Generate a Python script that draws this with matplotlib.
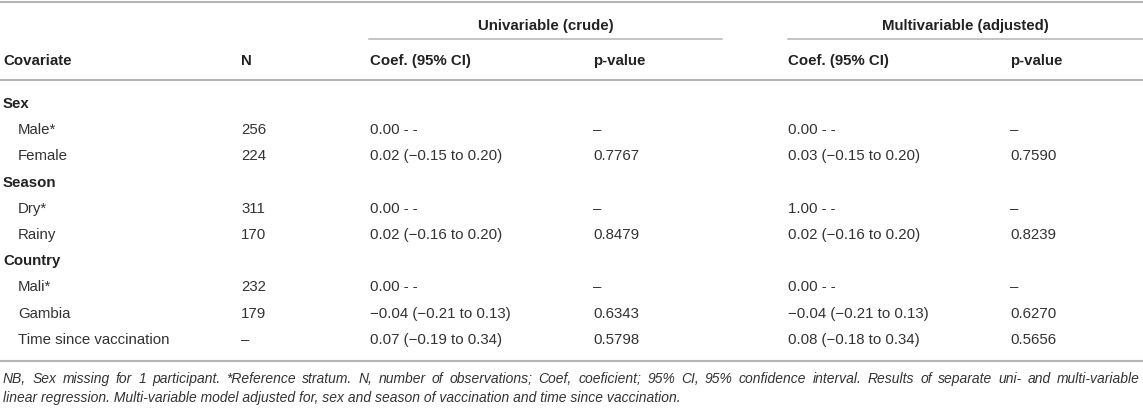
import matplotlib
matplotlib.use("Agg")
from matplotlib import pyplot as plt

plt.rcParams['font.family'] = ['Liberation Sans', 'DejaVu Sans']

# table content
row_labels = ["Sex", "Male*", "Female", "Season", "Dry*", "Rainy",
              "Country", "Mali*", "Gambia", "Time since vaccination"]
is_group = [True, False, False, True, False, False, True, False, False, False]
n_obs = ["", "256", "224", "", "311", "170", "", "232", "179", "–"]
uni_coef = ["", "0.00 - -", "0.02 (−0.15 to 0.20)", "", "0.00 - -",
            "0.02 (−0.16 to 0.20)", "", "0.00 - -", "−0.04 (−0.21 to 0.13)",
            "0.07 (−0.19 to 0.34)"]
uni_p = ["", "–", "0.7767", "", "–", "0.8479", "", "–", "0.6343", "0.5798"]
multi_coef = ["", "0.00 - -", "0.03 (−0.15 to 0.20)", "", "1.00 - -",
              "0.02 (−0.16 to 0.20)", "", "0.00 - -", "−0.04 (−0.21 to 0.13)",
              "0.08 (−0.18 to 0.34)"]
multi_p = ["", "–", "0.7590", "", "–", "0.8239", "", "–", "0.6270", "0.5656"]

col_heads = ["Covariate", "N", "Coef. (95% CI)", "p-value", "Coef. (95% CI)", "p-value"]
group_heads = ["Univariable (crude)", "Multivariable (adjusted)"]

foot_lines = ["NB, Sex missing for 1 participant. *Reference stratum. N, number of observations; "
              "Coef, coeficient; 95% CI, 95% confidence interval. Results of separate uni- and multi-variable",
              "linear regression. Multi-variable model adjusted for, sex and season of vaccination "
              "and time since vaccination."]

W, H = 1143, 410
fig = plt.figure(figsize=(W / 100, H / 100), dpi=100)
ax = fig.add_axes([0, 0, 1, 1])
ax.set_xlim(0, W)
ax.set_ylim(H, 0)
ax.axis("off")

txt = "#333333"
bold_txt = "#222222"
rule = "#b4b4b4"
fs = 10.8
col_x = [3, 241, 370, 593, 788, 1010]

# rules
ax.plot([0, W], [3, 3], color=rule, lw=1.5)
ax.plot([369, 722], [40, 40], color=rule, lw=1.1)
ax.plot([788, W], [40, 40], color=rule, lw=1.1)
ax.plot([0, W], [81, 81], color=rule, lw=1.5)
ax.plot([0, W], [362, 362], color=rule, lw=1.5)

# spanning headers
ax.text(546, 26, group_heads[0], ha="center", va="center", fontsize=fs,
        fontweight="bold", color=bold_txt)
ax.text(965, 26, group_heads[1], ha="center", va="center", fontsize=fs,
        fontweight="bold", color=bold_txt)

for x, h in zip(col_x, col_heads):
    ax.text(x, 61, h, ha="left", va="center", fontsize=fs, fontweight="bold", color=bold_txt)

row_y0, row_dy = 104, 26.2
for i, lab in enumerate(row_labels):
    y = row_y0 + i * row_dy
    if is_group[i]:
        ax.text(col_x[0], y, lab, ha="left", va="center", fontsize=fs,
                fontweight="bold", color=bold_txt)
        continue
    ax.text(18, y, lab, ha="left", va="center", fontsize=fs, color=txt)
    for x, v in zip(col_x[1:], [n_obs[i], uni_coef[i], uni_p[i], multi_coef[i], multi_p[i]]):
        ax.text(x, y, v, ha="left", va="center", fontsize=fs, color=txt)

# footnote: last line at natural width, first line justified to the table width
renderer = fig.canvas.get_renderer()
px_per_unit = fig.get_figwidth() * fig.dpi / W

t2 = ax.text(3, 398, foot_lines[1], ha="left", va="center", fontsize=10,
             style="italic", color=txt)
w2 = t2.get_window_extent(renderer).width / px_per_unit
foot_fs = 10 * 679 / w2
t2.set_fontsize(foot_fs)

words = foot_lines[0].split(" ")
word_txt = [ax.text(0, 379, wd, ha="left", va="center", fontsize=foot_fs,
                    style="italic", color=txt) for wd in words]
widths = [t.get_window_extent(renderer).width / px_per_unit for t in word_txt]
gap = (1140 - 3 - sum(widths)) / (len(words) - 1)
x = 3
for t, wd in zip(word_txt, widths):
    t.set_x(x)
    x += wd + gap

fig.savefig("out.png", dpi=100)
